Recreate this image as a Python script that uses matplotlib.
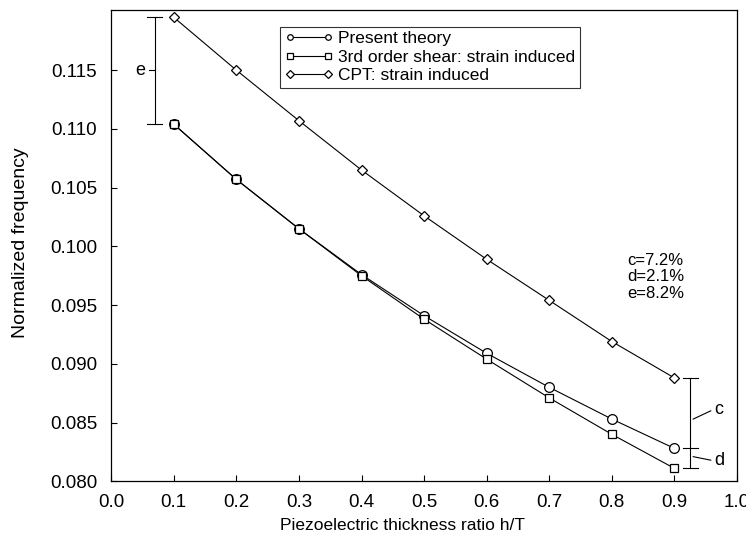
import matplotlib
matplotlib.use("Agg")
from matplotlib import pyplot as plt

plt.rcParams['font.family'] = ['Liberation Sans', 'DejaVu Sans']

# Piezoelectric thickness ratio h/T
ratio = [0.1, 0.2, 0.3, 0.4, 0.5, 0.6, 0.7, 0.8, 0.9]

# Normalized frequency for each model
present = [0.1104, 0.1057, 0.1015, 0.0976, 0.0941, 0.0909, 0.0880, 0.0853, 0.0828]
shear3 = [0.1104, 0.1057, 0.1015, 0.0975, 0.0938, 0.0904, 0.0871, 0.0840, 0.0811]
cpt = [0.1195, 0.1150, 0.1107, 0.1065, 0.1026, 0.0989, 0.0954, 0.0919, 0.0888]

labels = ['Present theory', '3rd order shear: strain induced', 'CPT: strain induced']
diff_text = 'c=7.2%\nd=2.1%\ne=8.2%'
xticks = [i / 10 for i in range(11)]
yticks = [0.080, 0.085, 0.090, 0.095, 0.100, 0.105, 0.110, 0.115]

fig = plt.figure(figsize=(7.46, 5.39), dpi=100)
ax = fig.add_axes([0.149, 0.107, 0.839, 0.874])

ax.plot(ratio, present, '-o', color='black', lw=0.8, ms=7, mfc='white', mew=0.9, label=labels[0])
ax.plot(ratio, shear3, '-s', color='black', lw=0.8, ms=5.5, mfc='white', mew=0.9, label=labels[1])
ax.plot(ratio, cpt, '-D', color='black', lw=0.8, ms=5, mfc='white', mew=0.9, label=labels[2])

# difference brackets
cap = 0.012
xe = 0.07
ax.plot([xe, xe], [present[0], cpt[0]], color='black', lw=0.8)
for yv in (present[0], cpt[0]):
    ax.plot([xe - cap, xe + cap], [yv, yv], color='black', lw=0.8)
ax.plot([0.06, 0.068], [0.1150, 0.1150], color='black', lw=0.8)
ax.text(0.055, 0.1150, 'e', ha='right', va='center', fontsize=13)

xc = 0.925
ax.plot([xc, xc], [shear3[-1], cpt[-1]], color='black', lw=0.8)
for yv in (shear3[-1], present[-1], cpt[-1]):
    ax.plot([xc - cap, xc + cap], [yv, yv], color='black', lw=0.8)
ax.plot([0.930, 0.958], [0.0853, 0.0860], color='black', lw=0.8)
ax.text(0.963, 0.0861, 'c', ha='left', va='center', fontsize=13)
ax.plot([0.930, 0.958], [0.0821, 0.0818], color='black', lw=0.8)
ax.text(0.963, 0.0818, 'd', ha='left', va='center', fontsize=13)

ax.text(0.87, 0.0974, diff_text, ha='center', va='center', fontsize=12, linespacing=1.1)

ax.set_xlim(0.0, 1.0)
ax.set_ylim(0.080, 0.1201)
ax.set_xticks(xticks)
ax.set_yticks(yticks)
ax.set_xticklabels(['%.1f' % v for v in xticks])
ax.set_yticklabels(['%.3f' % v for v in yticks])
ax.tick_params(direction='in', length=4, width=0.8, labelsize=13.5)
ax.tick_params(axis='y', pad=10)
ax.tick_params(axis='x', pad=9)
ax.set_xlabel('Piezoelectric thickness ratio h/T', fontsize=12.5)
ax.set_ylabel('Normalized frequency', fontsize=14)
ax.xaxis.set_label_coords(0.466, -0.078)
ax.yaxis.set_label_coords(-0.132, 0.507)
for s in ax.spines.values():
    s.set_linewidth(0.9)

leg = ax.legend(loc='upper left', bbox_to_anchor=(0.27, 0.965), numpoints=2, fontsize=12.5,
                frameon=True, fancybox=False, edgecolor='black', handlelength=2.8,
                handletextpad=0.3, borderpad=0.25, labelspacing=0.2, borderaxespad=0)
leg.get_frame().set_linewidth(0.8)
for h in leg.legend_handles:
    h.set_markersize(4)

plt.savefig('out.png', dpi=100)
